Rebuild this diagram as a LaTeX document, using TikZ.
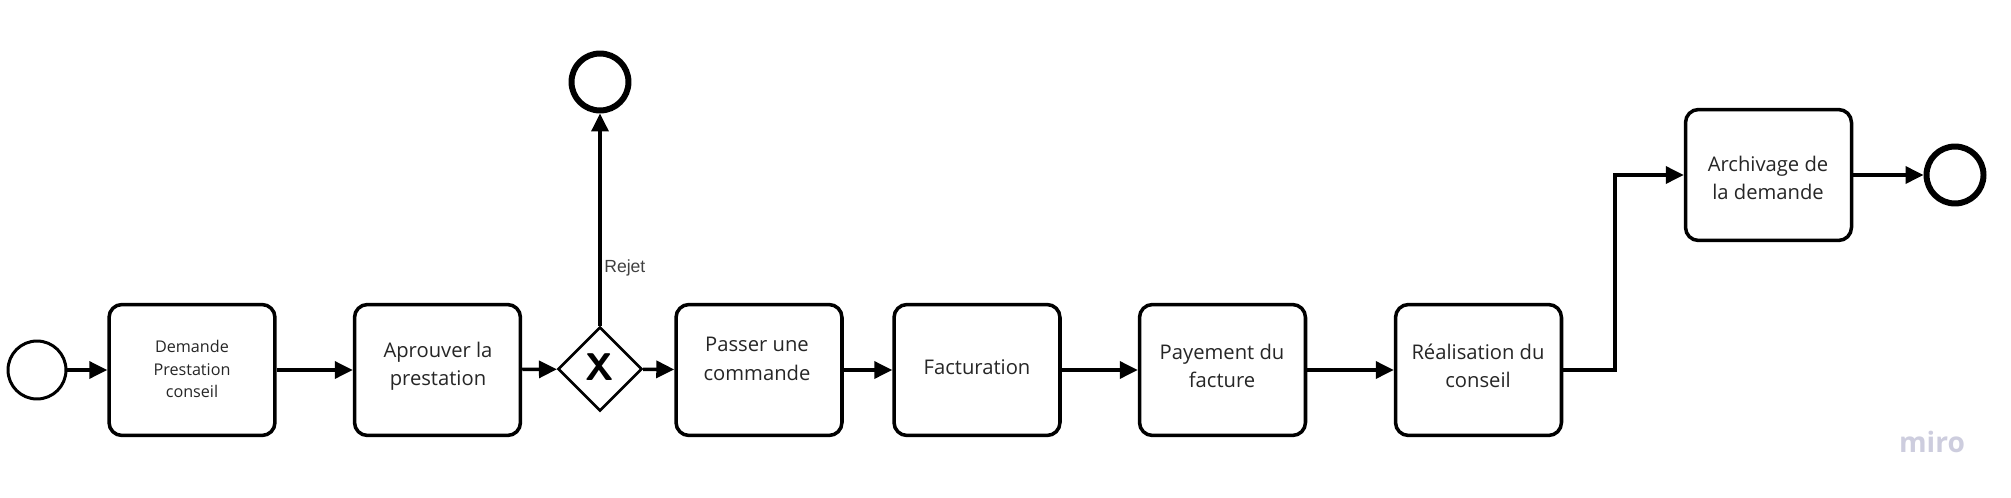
\documentclass[tikz,border=0pt]{standalone}
\usepackage{fontspec}
\setmainfont{Open Sans}
\newfontfamily\rejetfont{Liberation Sans}
\usetikzlibrary{arrows.meta,shapes.geometric}
\begin{document}
\begin{tikzpicture}[x=0.02cm,y=-0.02cm,
  taskbox/.style={draw=black,line width=2pt,rounded corners=0.26cm,minimum width=3.32cm,minimum height=2.62cm,inner sep=0pt},
  startev/.style={circle,draw=black,line width=1.7pt,minimum size=1.16cm,inner sep=0pt},
  endev/.style={circle,draw=black,line width=3.4pt,minimum size=1.14cm,inner sep=0pt},
  gate/.style={diamond,draw=black,line width=1.5pt,minimum width=1.68cm,minimum height=1.68cm,inner sep=0pt,aspect=1},
  lbl/.style={align=center,font=\fontsize{11.5}{16.2}\selectfont,text=black!85,inner sep=0pt},
  smalllbl/.style={align=center,font=\fontsize{9.2}{13}\selectfont,text=black!85,inner sep=0pt},
  flow/.style={line width=2pt,-{Triangle[length=0.36cm,width=0.34cm]}},
]
\fill[white] (0,0) rectangle (2011,497);
\useasboundingbox (0,0) rectangle (2011,497);

% events and gateway
\node[startev] (start) at (37,370) {};
\node[endev] (endrej) at (600,82) {};
\node[endev] (endfin) at (1955,175) {};
\node[gate] (gw) at (600,369) {};
\node[font=\sffamily\bfseries\fontsize{22}{22}\selectfont,inner sep=0pt] (gwx) at (600,367) {X};

% tasks
\node[taskbox] (b1) at (192,370) {};
\node[taskbox] (b2) at (437.5,370) {};
\node[taskbox] (b3) at (759,370) {};
\node[taskbox] (b4) at (977,370) {};
\node[taskbox] (b5) at (1222.5,370) {};
\node[taskbox] (b6) at (1478.5,370) {};
\node[taskbox] (b7) at (1768.5,175) {};

% task texts
\node[smalllbl] (t1) at (192,369) {Demande\\Prestation\\conseil};
\node[lbl] (t2) at (438,366) {Aprouver la\\prestation};
\node[lbl] (t3) at (757,359) {Passer une\\commande};
\node[lbl] (t4) at (977,367) {Facturation};
\node[lbl] (t5) at (1222,366) {Payement du\\facture};
\node[lbl] (t6) at (1478,366) {Réalisation du\\conseil};
\node[lbl] (t7) at (1768,178) {Archivage de\\la demande};

% flows
\draw[flow] (start) -- (b1);
\draw[flow] (b1) -- (b2);
\draw[flow] (b2) -- (gw);
\draw[flow] (gw) -- (b3);
\draw[flow] (b3) -- (b4);
\draw[flow] (b4) -- (b5);
\draw[flow] (b5) -- (b6);
\coordinate (bend) at (1615,370);
\draw[flow] (b6.east) -- (bend) |- (b7.west);
\draw[flow] (b7) -- (endfin);
\draw[flow] (gw.north) -- (endrej.south);
\node[font=\rejetfont\fontsize{10}{10}\selectfont,text=black!75,anchor=west,inner sep=0pt] (rejet) at (604,268) {Rejet};

% watermark
\node[font=\fontsize{16}{16}\selectfont\bfseries,text={rgb,255:red,205;green,205;blue,222},inner sep=0pt] (miro) at (1932,442) {miro};
\end{tikzpicture}
\end{document}
